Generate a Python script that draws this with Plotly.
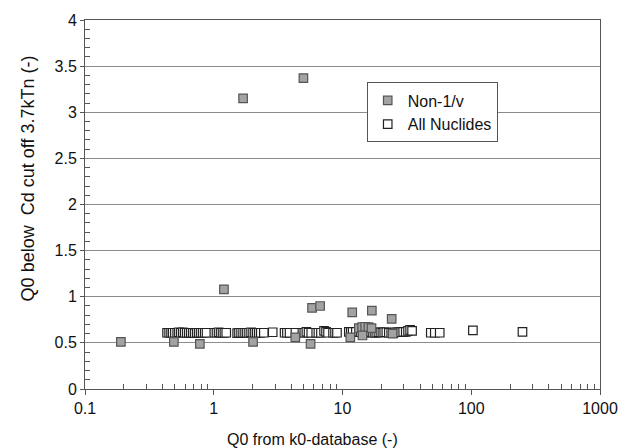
import plotly.graph_objects as go

# Non-1/v nuclides (gray filled squares)
non1v_x = [0.19, 0.49, 0.78, 1.2, 1.69, 2.02, 4.3, 4.97, 5.65, 5.8, 6.7, 11.5, 11.9,
           13.4, 14.2, 15.0, 15.9, 16.8, 14.3, 16.9, 24.1, 24.5]
non1v_y = [0.51, 0.51, 0.49, 1.08, 3.15, 0.51, 0.56, 3.37, 0.49, 0.88, 0.90, 0.56, 0.83,
           0.66, 0.67, 0.675, 0.67, 0.66, 0.58, 0.85, 0.76, 0.60]

# All nuclides (white squares)
all_x = [0.434, 0.45, 0.466, 0.48, 0.499, 0.52, 0.536, 0.555, 0.575, 0.595, 0.617, 0.64,
         0.663, 0.687, 0.711, 0.737, 0.763, 0.79, 0.819, 0.85, 0.879,
         1.01, 1.05, 1.09, 1.13, 1.17, 1.21, 1.25,
         1.52, 1.57, 1.63, 1.69, 1.75, 1.81, 1.88, 1.95, 2.02, 2.09, 2.16, 2.24, 2.32, 2.45,
         2.87, 3.55, 3.7, 3.88, 4.31, 4.88, 5.05, 5.24, 5.45, 5.72, 6.25, 6.5, 6.8,
         7.19, 7.45, 7.72, 8.44, 8.75, 9.06,
         11.2, 11.6, 12.0, 12.7, 13.4, 13.8, 14.3, 14.8, 15.4, 15.9, 16.5, 17.1, 17.7,
         18.3, 19.0, 19.7, 20.4, 21.1, 21.9, 22.9, 23.9, 24.8, 25.7, 26.6, 27.5, 28.5,
         29.6, 31.0, 32.3, 33.5, 34.7, 48.5, 52.1, 56.9, 103, 250]
all_y = [0.61, 0.61, 0.61, 0.61, 0.61, 0.61, 0.615, 0.61, 0.615, 0.61, 0.61, 0.61,
         0.61, 0.61, 0.605, 0.61, 0.61, 0.61, 0.61, 0.61, 0.61,
         0.61, 0.61, 0.615, 0.61, 0.61, 0.61, 0.61,
         0.605, 0.61, 0.61, 0.61, 0.61, 0.61, 0.61, 0.615, 0.61, 0.61, 0.61, 0.61, 0.61, 0.61,
         0.615, 0.61, 0.61, 0.61, 0.61, 0.61, 0.61, 0.62, 0.61, 0.61, 0.61, 0.61, 0.61,
         0.63, 0.62, 0.61, 0.61, 0.61, 0.61,
         0.62, 0.62, 0.62, 0.62, 0.62, 0.615, 0.61, 0.61, 0.615, 0.62, 0.62, 0.61, 0.61,
         0.61, 0.615, 0.615, 0.61, 0.615, 0.615, 0.61, 0.61, 0.605, 0.615, 0.615, 0.615, 0.615,
         0.62, 0.62, 0.63, 0.64, 0.63, 0.61, 0.61, 0.61, 0.635, 0.62]

x_tickvals = [0.1, 1, 10, 100, 1000]
x_ticktext = ["0.1", "1", "10", "100", "1000"]
y_tickvals = [0, 0.5, 1, 1.5, 2, 2.5, 3, 3.5, 4]
y_ticktext = ["0", "0.5", "1", "1.5", "2", "2.5", "3", "3.5", "4"]

# minor tick positions (2..9 within each decade) and every 0.1 on y
x_minor = [m * d for d in (0.1, 1, 10, 100) for m in range(2, 10)]
y_minor = [i / 10 for i in range(41) if i % 5]

FONT = "Liberation Sans, Arial, sans-serif"
AX = "#555555"

fig = go.Figure()
fig.add_trace(go.Scatter(
    x=all_x, y=all_y, mode="markers", name="All Nuclides", legendrank=2,
    marker=dict(symbol="square", size=8.5, color="white",
                line=dict(color="#222222", width=1.2)),
))
fig.add_trace(go.Scatter(
    x=non1v_x, y=non1v_y, mode="markers", name="Non-1/v", legendrank=1,
    marker=dict(symbol="square", size=8.5, color="#a3a3a3",
                line=dict(color="#555555", width=1.2)),
))

fig.update_layout(
    width=630, height=448,
    margin=dict(l=85, r=24, t=17, b=59),
    paper_bgcolor="white", plot_bgcolor="white",
    font=dict(family=FONT, size=16, color="#111111"),
    showlegend=True,
    legend=dict(x=(370 - 85) / (606 - 85), y=(389 - 80) / (389 - 17),
                xanchor="left", yanchor="top",
                bgcolor="white", bordercolor=AX, borderwidth=1,
                font=dict(size=16), itemsizing="trace", itemwidth=30,
                tracegroupgap=2),
    xaxis=dict(
        type="log", range=[-1, 3],
        tickvals=x_tickvals, ticktext=x_ticktext,
        ticks="outside", ticklen=5, tickcolor=AX,
        showline=True, linecolor=AX, linewidth=1, mirror=True,
        showgrid=False, zeroline=False,
        minor=dict(ticks="inside", ticklen=5, tickcolor=AX, tickvals=x_minor, showgrid=False),
        tickfont=dict(size=16),
    ),
    yaxis=dict(
        range=[0, 4],
        tickvals=y_tickvals, ticktext=y_ticktext,
        ticks="outside", ticklen=4, tickcolor=AX,
        showline=True, linecolor=AX, linewidth=1, mirror=True,
        showgrid=True, gridcolor="#8c8c8c", gridwidth=1, zeroline=False,
        minor=dict(ticks="inside", ticklen=5, tickvals=y_minor, tickcolor=AX, showgrid=False),
        tickfont=dict(size=16),
    ),
    annotations=[
        dict(text="Q0 from k0-database (-)", xref="paper", yref="paper",
             x=(315 - 85) / (606 - 85), y=-(440 - 389) / (389 - 17),
             xanchor="center", yanchor="middle", showarrow=False,
             font=dict(size=16)),
        dict(text="Q0 below  Cd cut off 3.7kTn (-)", xref="paper", yref="paper",
             x=-(85 - 27) / (606 - 85), y=(389 - 177) / (389 - 17),
             xanchor="center", yanchor="middle", showarrow=False, textangle=-90,
             font=dict(size=18)),
    ],
)

fig.write_html("out.html", config={"displayModeBar": False},
               post_script="document.body.style.margin='0';")
